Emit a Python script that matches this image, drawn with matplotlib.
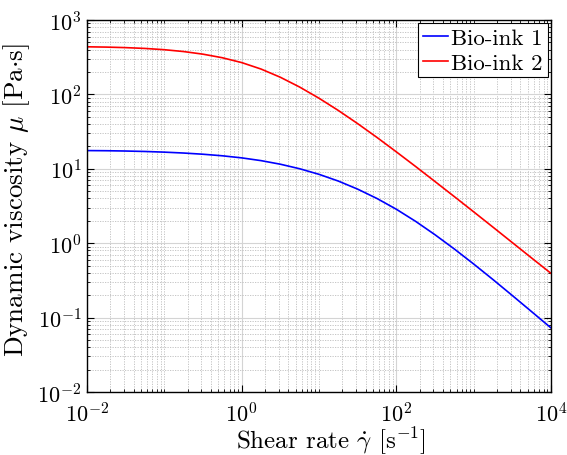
import numpy as np
import matplotlib
matplotlib.use("Agg")
import matplotlib.pyplot as plt
from matplotlib.ticker import LogLocator, FixedLocator, NullFormatter

plt.rcParams['font.family'] = 'serif'
plt.rcParams['font.serif'] = ['cmr10']
plt.rcParams['mathtext.fontset'] = 'cm'
plt.rcParams['axes.formatter.use_mathtext'] = True
plt.rcParams['axes.unicode_minus'] = False

# shear rate samples [1/s]
shear_rate = [0.01, 0.0178, 0.0316, 0.0562, 0.1, 0.178, 0.316, 0.562,
              1.0, 1.78, 3.16, 5.62, 10.0, 17.8, 31.6, 56.2,
              100.0, 178.0, 316.0, 562.0, 1000.0, 1780.0, 3160.0, 5620.0, 10000.0]

# dynamic viscosity [Pa s]
mu_ink1 = [17.58, 17.50, 17.34, 17.10, 16.75, 16.29, 15.70, 14.96,
           14.03, 12.88, 11.53, 10.02, 8.43, 6.84, 5.33, 3.99,
           2.86, 1.963, 1.300, 0.836, 0.525, 0.324, 0.198, 0.120, 0.0726]
mu_ink2 = [436.5, 432.5, 425.6, 415.0, 399.0, 376.7, 347.5, 311.2,
           267.9, 219.3, 170.2, 125.6, 88.9, 60.8, 40.5, 26.4,
           16.9, 10.72, 6.75, 4.23, 2.64, 1.641, 1.019, 0.632, 0.393]

labels = ['Bio-ink 1', 'Bio-ink 2']
colors = ['#0000ff', '#ff0000']

fig = plt.figure(figsize=(5.67, 4.56), dpi=100)
ax = fig.add_axes([0.1534, 0.1382, 0.8184, 0.8157])

ax.plot(shear_rate, mu_ink1, color=colors[0], lw=1.2, label=labels[0])
ax.plot(shear_rate, mu_ink2, color=colors[1], lw=1.2, label=labels[1])

ax.set_xscale('log')
ax.set_yscale('log')
ax.set_xlim(1e-2, 1e4)
ax.set_ylim(1e-2, 1e3)

ax.xaxis.set_major_locator(FixedLocator([1e-2, 1e0, 1e2, 1e4]))
ax.xaxis.set_minor_locator(LogLocator(base=10, subs=np.arange(1, 10), numticks=20))
ax.yaxis.set_major_locator(LogLocator(base=10, numticks=10))
ax.yaxis.set_minor_locator(LogLocator(base=10, subs=np.arange(2, 10), numticks=20))
ax.xaxis.set_minor_formatter(NullFormatter())
ax.yaxis.set_minor_formatter(NullFormatter())

ax.grid(True, which='major', color='#d4d4d4', lw=0.8, ls='-')
ax.grid(True, which='minor', color='#bdbdbd', lw=0.6, ls=(0, (1.5, 1.5)))
ax.set_axisbelow(True)

ax.tick_params(which='both', direction='in', top=True, right=True, labelsize=16)
ax.tick_params(which='major', length=5, width=0.8, pad=4)
ax.tick_params(axis='x', which='major', pad=6.5)
ax.tick_params(which='minor', length=2.5, width=0.6)
for s in ax.spines.values():
    s.set_linewidth(1.0)

ax.set_xlabel(r'Shear rate $\dot{\gamma}$ [s$^{-1}$]', fontsize=18)
ax.set_ylabel(r'Dynamic viscosity $\mu$ [Pa$\cdot$s]', fontsize=19.5)
ax.xaxis.set_label_coords(0.525, -0.087)
ax.yaxis.set_label_coords(-0.118, 0.52)

leg = ax.legend(loc='upper right', fontsize=16.5, fancybox=False, framealpha=1,
                edgecolor='black', handlelength=1.1, handletextpad=0.15,
                borderpad=0.2, labelspacing=0.2, borderaxespad=0.15)
leg.get_frame().set_linewidth(0.8)

fig.savefig('out.png', dpi=100)
